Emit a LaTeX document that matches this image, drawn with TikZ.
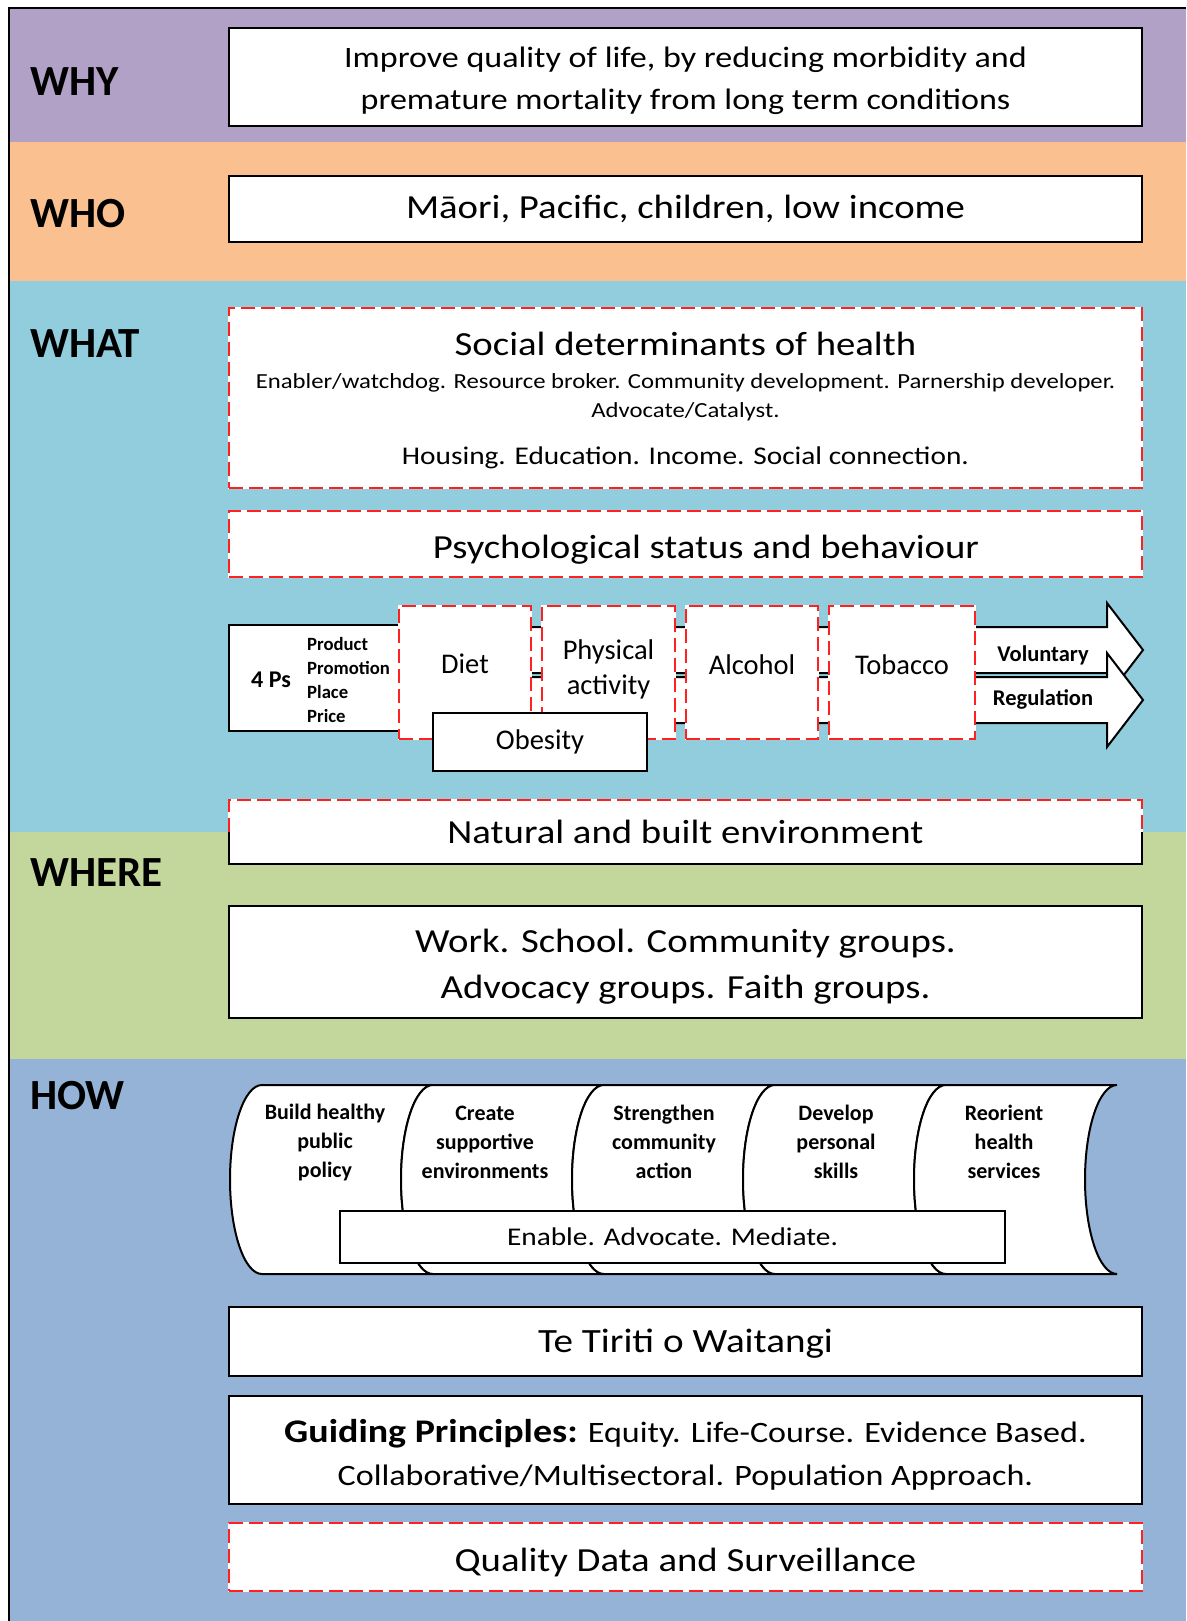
\documentclass[tikz,border=0pt]{standalone}
\usepackage{fontspec}
\setmainfont{Carlito}
\newfontfamily\widefont[FakeStretch=1.15]{Carlito}
\usepackage{tikz}
\usetikzlibrary{positioning}
\definecolor{whycol}{RGB}{178,161,199}
\definecolor{whocol}{RGB}{250,192,144}
\definecolor{whatcol}{RGB}{146,205,221}
\definecolor{wherecol}{RGB}{195,214,155}
\definecolor{howcol}{RGB}{149,179,215}
\definecolor{dashred}{RGB}{255,32,32}
\tikzset{node distance=9pt}
\tikzset{solidbox/.style={draw,line width=2pt,fill=white,inner sep=0pt}}
\tikzset{redbox/.style={draw=white,line width=2pt,fill=white,inner sep=0pt,
    postaction={draw=dashred,line width=2pt,dash pattern=on 14pt off 6pt}}}
\tikzset{rededge/.style={draw=white,line width=2pt,
    postaction={draw=dashred,line width=2pt,dash pattern=on 14pt off 6pt}}}
\tikzset{arrowpart/.style={draw,line width=2pt,fill=white,line join=miter}}
\tikzset{canpart/.style={draw,line width=2pt,fill=white}}
\tikzset{heading/.style={anchor=west,inner sep=0pt,font=\bfseries\fontsize{43}{43}\selectfont}}
\tikzset{bigtext/.style={align=center,font=\widefont\fontsize{33.7}{46}\selectfont}}
\tikzset{midtext/.style={align=center,font=\widefont\fontsize{29.6}{42.5}\selectfont}}
\tikzset{smalltext/.style={align=center,font=\widefont\fontsize{25.5}{26}\selectfont}}
\tikzset{factor/.style={align=center,inner sep=0pt,font=\fontsize{28.5}{35}\selectfont}}
\tikzset{cantext/.style={align=center,inner sep=0pt,font=\bfseries\fontsize{22}{29}\selectfont}}
\tikzset{arrowtext/.style={inner sep=0pt,font=\bfseries\fontsize{22.5}{22.5}\selectfont}}

\begin{document}
\begin{tikzpicture}[x=1pt,y=-1pt]
\useasboundingbox (0,0) rectangle (1186,1621);
% coloured bands and frame
\fill[whycol] (9,8) rectangle (1186,142);
\fill[whocol] (9,142) rectangle (1186,281);
\fill[whatcol] (9,281) rectangle (1186,832);
\fill[wherecol] (9,832) rectangle (1186,1059);
\fill[howcol] (9,1059) rectangle (1186,1621);
\draw[line width=2pt] (9,1621) -- (9,8) -- (1186,8);

\node[heading] (why) at (30,82) {WHY};
\node[heading] (who) at (30,214) {WHO};
\node[heading] (what) at (30,344) {WHAT};
\node[heading] (where) at (30,873) {WHERE};
\node[heading] (how) at (30,1096) {HOW};

\node[solidbox,minimum width=913pt,minimum height=98pt] (goal) at (685.5,77) {};
\node[midtext] (goaltext) at (685.5,81)
    {Improve quality of life, by reducing morbidity and\\premature mortality from long term conditions};
\node[solidbox,bigtext,minimum width=913pt,minimum height=66pt] (groups) at (685.5,209)
    {Māori, Pacific, children, low income};

% social determinants
\node[redbox,minimum width=913pt,minimum height=180pt] (socdet) at (685.5,398) {};
\node[bigtext] (socdettitle) at (685.5,344) {Social determinants of health};
\node[align=center,font=\widefont\fontsize{21.5}{29}\selectfont] (roles) at (685.5,397)
    {Enabler/watchdog. Resource broker. Community development. Parnership developer.\\Advocate/Catalyst.};
\node[smalltext] (determinants) at (685.5,458) {Housing. Education. Income. Social connection.};

\node[redbox,minimum width=913pt,minimum height=66pt] (psych) at (685.5,544) {};
\node[bigtext] (psychtext) at (706,550) {Psychological status and behaviour};

% voluntary and regulation arrows behind the risk factors
\draw[arrowpart] (399,627) -- (1107,627) -- (1107,603) -- (1143,650) -- (1107,697) -- (1107,673) -- (399,673) -- cycle;
\draw[arrowpart] (399,677) -- (1107,677) -- (1107,653) -- (1143,700) -- (1107,747) -- (1107,723) -- (399,723) -- cycle;
\node[arrowtext] (voluntary) at (1043,655) {Voluntary};
\node[arrowtext] (regulation) at (1043,699) {Regulation};

\node[solidbox,minimum width=171pt,minimum height=106pt] (fourps) at (314.5,678) {};
\node[inner sep=0pt,font=\bfseries\fontsize{24}{24}\selectfont] (fourpstext) at (271,680) {4 Ps};
\node[anchor=west,align=left,inner sep=0pt,font=\bfseries\fontsize{18.7}{23.7}\selectfont] (pslist) at (307,680)
    {Product\\Promotion\\Place\\Price};

\node[redbox,minimum width=132pt,minimum height=133pt] (diet) at (465,672.5) {};
\node[redbox,minimum width=133pt,minimum height=133pt] (physical) [right=of diet] {};
\node[redbox,minimum width=132pt,minimum height=133pt] (alcohol) [right=of physical] {};
\node[redbox,minimum width=146pt,minimum height=133pt] (tobacco) [right=of alcohol] {};
\node[factor] (diettext) at ([yshift=9pt]diet.center) {Diet};
\node[factor] (physicaltext) at ([yshift=3pt]physical.center) {Physical\\activity};
\node[factor] (alcoholtext) at ([yshift=8pt]alcohol.center) {Alcohol};
\node[factor] (tobaccotext) at ([yshift=8pt]tobacco.center) {Tobacco};
\node[solidbox,factor,minimum width=214pt,minimum height=58pt] (obesity) at (540,742) {Obesity};

% environment box, half in the what band and half in the where band
\node[fill=white,inner sep=0pt,bigtext,minimum width=913pt,minimum height=63pt] (environment) at (685.5,832)
    {Natural and built environment};
\draw[rededge] (environment.west) -- (environment.north west) -- (environment.north east) -- (environment.east);
\draw[line width=2pt] (environment.west) -- (environment.south west) -- (environment.south east) -- (environment.east);

\node[solidbox,minimum width=913pt,minimum height=112pt] (settings) at (685.5,962) {};
\node[bigtext] (settingstext) at (685.5,967) {Work. School. Community groups.\\Advocacy groups. Faith groups.};

% Ottawa charter action areas
\foreach \n [count=\k from 0] in {build,create,strengthen,develop,reorient} {
    \pgfmathsetmacro\xl{230+171*\k}
    \pgfmathsetmacro\xr{\xl+171}
    \draw[canpart] (\xl+32,1085) arc[start angle=270,end angle=90,x radius=32,y radius=94.5]
        -- (\xr+32,1274) arc[start angle=90,end angle=270,x radius=32,y radius=94.5] -- cycle;
}
\node[cantext] (build) at (325,1142) {Build healthy\\public\\policy};
\node[cantext] (create) at (485,1142) {Create\\supportive\\environments};
\node[cantext] (strengthen) at (664,1142) {Strengthen\\community\\action};
\node[cantext] (develop) at (836,1142) {Develop\\personal\\skills};
\node[cantext] (reorient) at (1004,1142) {Reorient\\health\\services};
\node[solidbox,smalltext,minimum width=665pt,minimum height=52pt] (enable) at (672.5,1237)
    {Enable. Advocate. Mediate.};

\node[solidbox,minimum width=913pt,minimum height=69pt] (tiriti) at (685.5,1341.5) {};
\node[font=\widefont\fontsize{34}{34}\selectfont] (tiritext) at (685.5,1344) {Te Tiriti o Waitangi};
\node[solidbox,minimum width=913pt,minimum height=108pt] (principles) at (685.5,1450) {};
\node[midtext] (principlestext) at (685.5,1455)
    {{\bfseries\fontsize{33}{42.5}\selectfont Guiding Principles:} Equity. Life-Course. Evidence Based.\\Collaborative/Multisectoral. Population Approach.};
\node[redbox,minimum width=913pt,minimum height=68pt] (surveillance) at (685.5,1557) {};
\node[bigtext] (surveillancetext) at (685.5,1562) {Quality Data and Surveillance};
\end{tikzpicture}
\end{document}
